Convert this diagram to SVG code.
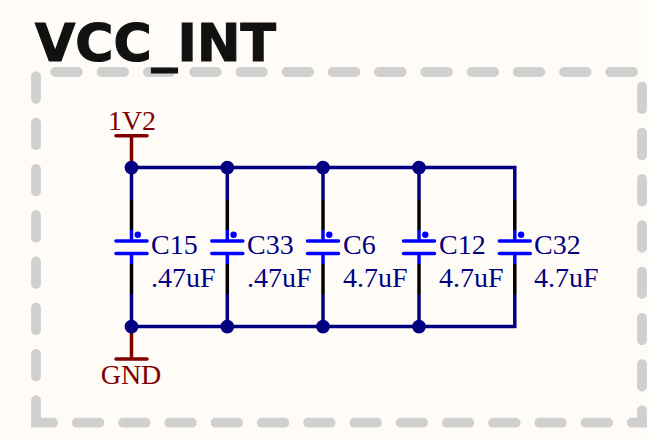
<svg xmlns="http://www.w3.org/2000/svg" width="649" height="440" viewBox="0 0 649 440">
<style>
.f{fill:none;stroke:#d0d0d0;stroke-width:9.8;stroke-linecap:round;stroke-linejoin:miter;stroke-dasharray:22.6 23.65}
.w{fill:none;stroke:#000080;stroke-width:3.5}
.p{fill:none;stroke:#800000;stroke-width:3.5}
.l{fill:none;stroke:#000;stroke-width:3.5}
.c{fill:none;stroke:#0000ff;stroke-width:3.5}
.cr{fill:none;stroke:#0000ff;stroke-width:3.5;stroke-linecap:round}
.pr{fill:none;stroke:#800000;stroke-width:3.5;stroke-linecap:round}
.j{fill:#000080}
.d{fill:#0000ff}
text{font-family:"Liberation Serif",serif;font-size:28px}
.n{fill:#000080}
.r{fill:#800000;text-anchor:middle}
</style>
<rect width="649" height="440" fill="#fffcf8"/>
<path id="frame" class="f" d="M36 422.7V72H642V422.7Z"/>
<text id="title" x="35" y="61" style="font-family:'DejaVu Sans',sans-serif;font-weight:700;font-size:52px;stroke:#111;stroke-width:1.2px" fill="#111">VCC_INT</text>
<g id="connectors">
<path class="w" d="M131.5 200V167.6H514.8V200M227.3 167.6V200M323 167.6V200M419 167.6V200"/>
<path class="w" d="M131.5 294V326.6H514.8V294M227.3 326.6V294M323 326.6V294M419 326.6V294"/>
</g>
<g id="net-1V2">
<path class="p" d="M131.5 167.6V135.7"/><path class="pr" d="M116 135.7H147"/>
<text class="r" x="132" y="130">1V2</text>
<circle class="j" cx="131.5" cy="167.6" r="6.9"/>
</g>
<g id="net-GND">
<path class="p" d="M131.5 326.6V359"/><path class="pr" d="M116 359H147"/>
<text class="r" x="131" y="384">GND</text>
<circle class="j" cx="131.5" cy="326.6" r="6.9"/>
</g>
<circle id="j2" class="j" cx="227.3" cy="167.6" r="6.9"/>
<circle id="j3" class="j" cx="323" cy="167.6" r="6.9"/>
<circle id="j4" class="j" cx="419" cy="167.6" r="6.9"/>
<circle id="j5" class="j" cx="227.3" cy="326.6" r="6.9"/>
<circle id="j6" class="j" cx="323" cy="326.6" r="6.9"/>
<circle id="j7" class="j" cx="419" cy="326.6" r="6.9"/>
<defs>
<g id="cap">
<path class="l" d="M0 200V230M0 264V294"/>
<path class="c" d="M0 230V241M0 253.4V264"/>
<path class="cr" d="M-15.5 241H15.5M-15.5 253.4H15.5"/>
<circle class="d" cx="6.3" cy="234.7" r="3.2"/>
</g>
</defs>
<g id="C15"><use href="#cap" x="131.5"/><text class="n" x="151" y="254">C15</text><text class="n" x="151" y="286.7">.47uF</text></g>
<g id="C33"><use href="#cap" x="227.3"/><text class="n" x="247" y="254">C33</text><text class="n" x="247" y="286.7">.47uF</text></g>
<g id="C6"><use href="#cap" x="323"/><text class="n" x="343" y="254">C6</text><text class="n" x="343" y="286.7">4.7uF</text></g>
<g id="C12"><use href="#cap" x="419"/><text class="n" x="439" y="254">C12</text><text class="n" x="439" y="286.7">4.7uF</text></g>
<g id="C32"><use href="#cap" x="514.8"/><text class="n" x="534" y="254">C32</text><text class="n" x="534" y="286.7">4.7uF</text></g>
</svg>
